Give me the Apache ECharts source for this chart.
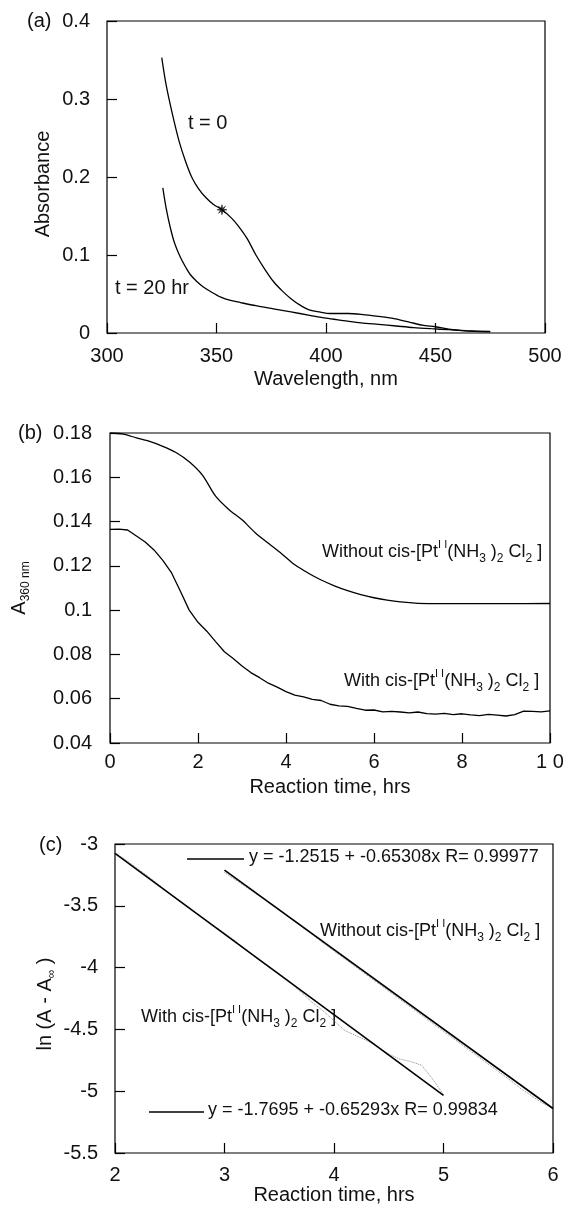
<!DOCTYPE html>
<html>
<head>
<meta charset="utf-8">
<script src="https://cdn.jsdelivr.net/npm/echarts@6.0.0/dist/echarts.min.js"></script>
<style>
  html, body { margin: 0; padding: 0; background: #fff; }
  #main { width: 571px; height: 1207px; }
</style>
</head>
<body>
<div id="main"></div>
<script>
// (a) spectra: [wavelength nm, absorbance]
let specT0 = [[325,0.353],[327,0.318],[330,0.279],[333,0.245],[336,0.219],[339,0.198],[342,0.184],[345,0.174],
  [348.5,0.165],[352.5,0.158],[357,0.147],[360,0.137],[364,0.121],[368,0.100],[372,0.082],[376,0.066],[380,0.054],
  [384,0.044],[388,0.036],[392,0.030],[397,0.027],[402,0.025],[410,0.025],[416,0.024],[422,0.022],[430,0.019],
  [438,0.014],[444,0.010],[450,0.008],[456,0.005],[462,0.003],[468,0.002],[475,0.0015]];
let specT20 = [[325.5,0.186],[327,0.160],[329,0.134],[331,0.114],[333.5,0.097],[336,0.084],[338,0.075],[341,0.066],
  [344,0.059],[348,0.052],[352,0.046],[356,0.042],[361,0.039],[368,0.035],[376,0.031],[384,0.027],[392,0.023],
  [400,0.019],[408,0.016],[416,0.013],[424,0.011],[432,0.009],[440,0.007],[448,0.0055],[456,0.0042],[464,0.003],[475,0.002]];
let starPoint = [[352.5,0.158]];

// (b) A360 vs time
let kinWithout = [[0,0.180],[0.3,0.1795],[0.6,0.1778],[0.9,0.1762],[1.2,0.1740],[1.5,0.1712],[1.8,0.1670],[2.1,0.1610],
  [2.4,0.1515],[2.7,0.1455],[3.0,0.1408],[3.3,0.1350],[3.6,0.1302],[3.9,0.1255],[4.2,0.1205],[4.5,0.1168],[4.8,0.1136],
  [5.1,0.1110],[5.4,0.1088],[5.7,0.1070],[6.0,0.1056],[6.3,0.1045],[6.6,0.1037],[7.0,0.1031],[7.5,0.1029],[8.0,0.1029],
  [9.0,0.1029],[10.0,0.1030]];
let kinWith = [[0,0.1365],[0.2,0.1366],[0.4,0.1362],[0.6,0.1335],[0.8,0.1308],[1.0,0.1272],[1.2,0.1225],[1.4,0.1168],
  [1.6,0.1085],[1.8,0.1000],[2.0,0.0945],[2.2,0.0905],[2.4,0.0858],[2.6,0.0812],[2.8,0.0782],[3.0,0.0748],[3.2,0.0718],
  [3.4,0.0695],[3.6,0.0670],[3.8,0.0652],[4.0,0.0632],[4.2,0.0616],[4.4,0.0608],[4.6,0.0597],[4.8,0.0592],[5.0,0.0575],
  [5.2,0.0568],[5.4,0.0565],[5.6,0.0556],[5.8,0.0548],[6.0,0.0549],[6.2,0.0541],[6.4,0.0543],[6.6,0.0540],[6.8,0.0536],
  [7.0,0.0540],[7.2,0.0533],[7.4,0.0530],[7.6,0.0534],[7.8,0.0528],[8.0,0.0532],[8.2,0.0527],[8.4,0.0524],[8.6,0.0529],
  [8.8,0.0526],[9.0,0.0522],[9.2,0.0528],[9.4,0.0544],[9.6,0.0543],[9.8,0.0541],[10.0,0.0545]];

// (c) ln(A - Ainf) vs time, raw and fitted
let lnWithout = [[3.0,-3.23],[3.1,-3.29],[3.2,-3.35],[3.3,-3.41],[3.4,-3.47],[3.5,-3.535],[3.6,-3.60],[3.7,-3.665],
  [3.8,-3.73],[3.9,-3.80],[4.0,-3.865],[4.1,-3.93],[4.2,-3.995],[4.3,-4.06],[4.4,-4.125],[4.5,-4.19],[4.6,-4.255],
  [4.7,-4.32],[4.8,-4.385],[4.9,-4.45],[5.0,-4.515],[5.1,-4.58],[5.2,-4.645],[5.3,-4.71],[5.4,-4.775],[5.5,-4.84],
  [5.6,-4.905],[5.7,-4.975],[5.8,-5.035],[5.9,-5.095],[6.0,-5.14]];
let lnWith = [[2.0,-3.07],[2.1,-3.13],[2.2,-3.195],[2.3,-3.26],[2.4,-3.33],[2.5,-3.40],[2.6,-3.47],[2.7,-3.535],
  [2.8,-3.60],[2.9,-3.66],[3.0,-3.72],[3.1,-3.785],[3.2,-3.86],[3.3,-3.93],[3.4,-3.99],[3.5,-4.05],[3.6,-4.12],
  [3.7,-4.20],[3.8,-4.28],[3.9,-4.35],[4.0,-4.43],[4.1,-4.51],[4.2,-4.55],[4.3,-4.59],[4.4,-4.64],[4.5,-4.70],
  [4.6,-4.74],[4.7,-4.76],[4.8,-4.79],[4.9,-4.90],[5.0,-5.03]];
let fitWithout = [[3,-3.211],[6,-5.14]];
let fitWith = [[2,-3.075],[5,-5.034]];

let FONT = "'Liberation Sans', Arial, Helvetica, sans-serif";
let INK = '#111';

let chart = echarts.init(document.getElementById('main'));

function xAx(grid, min, max, step, name, gap, margin, fmt) {
  return {
    type: 'value', gridIndex: grid, min: min, max: max, interval: step,
    name: name, nameLocation: 'middle', nameGap: gap,
    nameTextStyle: { fontFamily: FONT, fontSize: 20, color: INK },
    axisLine: { show: false },
    axisTick: { show: true, inside: true, length: 10, lineStyle: { color: '#000', width: 1.2 } },
    axisLabel: { margin: margin, fontFamily: FONT, fontSize: 20, color: INK, formatter: fmt },
    splitLine: { show: false }
  };
}
function yAx(grid, min, max, step, margin) {
  return {
    type: 'value', gridIndex: grid, min: min, max: max, interval: step,
    axisLine: { show: false },
    axisTick: { show: true, inside: true, length: 10, lineStyle: { color: '#000', width: 1.2 } },
    axisLabel: { margin: margin, fontFamily: FONT, fontSize: 20, color: INK },
    splitLine: { show: false }
  };
}

let rich = {
  m: { fontFamily: FONT, fontSize: 18, lineHeight: 26, fill: INK, color: INK },
  big: { fontFamily: FONT, fontSize: 20, lineHeight: 26, fill: INK, color: INK },
  sup: { fontFamily: FONT, fontSize: 11, lineHeight: 12, verticalAlign: 'top', fill: INK, color: INK },
  sub: { fontFamily: FONT, fontSize: 12, lineHeight: 12, verticalAlign: 'bottom', fill: INK, color: INK }
};
let compound = '{sup|I I}{m|(NH}{sub|3}{m| )}{sub|2}{m| Cl}{sub|2}{m| ]}';

function txt(x, y, text, size, align, rot) {
  return {
    type: 'text', x: x, y: y, rotation: rot || 0,
    style: { text: text, fontFamily: FONT, fontSize: size, fill: INK,
      align: align || 'left', verticalAlign: 'middle', rich: rich }
  };
}
function seg(x1, x2, y) {
  return { type: 'line', shape: { x1: x1, y1: y, x2: x2, y2: y }, style: { stroke: '#000', lineWidth: 1.5 } };
}

let blackLine = { color: '#000', width: 1.3 };

let option = {
  backgroundColor: '#fff',
  animation: false,
  grid: [
    { left: 107, top: 21, width: 438, height: 312, show: true, borderColor: '#000', borderWidth: 1.2 },
    { left: 110, top: 433, width: 440, height: 310, show: true, borderColor: '#000', borderWidth: 1.2 },
    { left: 115, top: 844, width: 438, height: 309, show: true, borderColor: '#000', borderWidth: 1.2 }
  ],
  xAxis: [
    xAx(0, 300, 500, 50, 'Wavelength, nm', 36, 13),
    xAx(1, 0, 10, 2, 'Reaction time, hrs', 34, 9, function (v) { return v === 10 ? '1 0' : v; }),
    xAx(2, 2, 6, 1, 'Reaction time, hrs', 32, 12)
  ],
  yAxis: [
    yAx(0, 0, 0.4, 0.1, 17),
    yAx(1, 0.04, 0.18, 0.02, 18),
    yAx(2, -5.5, -3, 0.5, 17)
  ],
  series: [
    { type: 'line', xAxisIndex: 0, yAxisIndex: 0, data: specT0, smooth: 0.3, showSymbol: false, lineStyle: blackLine },
    { type: 'line', xAxisIndex: 0, yAxisIndex: 0, data: specT20, smooth: 0.3, showSymbol: false, lineStyle: blackLine },
    { type: 'scatter', xAxisIndex: 0, yAxisIndex: 0, data: starPoint, symbolSize: 10, z: 5,
      symbol: 'path://M5,0L5.8,3.6L8.5,1.5L6.4,4.2L10,5L6.4,5.8L8.5,8.5L5.8,6.4L5,10L4.2,6.4L1.5,8.5L3.6,5.8L0,5L3.6,4.2L1.5,1.5L4.2,3.6Z',
      itemStyle: { color: '#000', borderColor: '#000', borderWidth: 0.6 } },
    { type: 'line', xAxisIndex: 1, yAxisIndex: 1, data: kinWithout, smooth: 0.3, showSymbol: false, lineStyle: blackLine },
    { type: 'line', xAxisIndex: 1, yAxisIndex: 1, data: kinWith, showSymbol: false, lineStyle: blackLine },
    { type: 'line', xAxisIndex: 2, yAxisIndex: 2, data: lnWithout, showSymbol: false,
      lineStyle: { color: '#8a8a8a', width: 1, type: 'dotted' } },
    { type: 'line', xAxisIndex: 2, yAxisIndex: 2, data: fitWithout, showSymbol: false, lineStyle: { color: '#000', width: 1.6 } },
    { type: 'line', xAxisIndex: 2, yAxisIndex: 2, data: lnWith, showSymbol: false,
      lineStyle: { color: '#8a8a8a', width: 1, type: 'dotted' } },
    { type: 'line', xAxisIndex: 2, yAxisIndex: 2, data: fitWith, showSymbol: false, lineStyle: { color: '#000', width: 1.6 } }
  ],
  graphic: [
    txt(27, 21, '(a)', 20),
    txt(18, 433, '(b)', 20),
    txt(39, 845, '(c)', 20),
    txt(43, 184, 'Absorbance', 20, 'center', Math.PI / 2),
    txt(19, 588, '{big|A}{sub|360 nm}', 20, 'center', Math.PI / 2),
    txt(45, 1004, '{big|ln (A - A}{sub|\u221e}{big| )}', 20, 'center', Math.PI / 2),
    txt(188, 123, 't = 0', 20),
    txt(115, 288, 't = 20 hr', 20),
    txt(322, 552, '{m|Without cis-[Pt}' + compound, 18),
    txt(344, 681, '{m|With cis-[Pt}' + compound, 18),
    txt(320, 931, '{m|Without cis-[Pt}' + compound, 18),
    txt(141, 1017, '{m|With cis-[Pt}' + compound, 18),
    seg(187, 244, 859),
    txt(249, 857, 'y = -1.2515 + -0.65308x R= 0.99977', 18),
    seg(149, 204, 1112),
    txt(208, 1110, 'y = -1.7695 + -0.65293x R= 0.99834', 18)
  ]
};

chart.setOption(option);
</script>
</body>
</html>
